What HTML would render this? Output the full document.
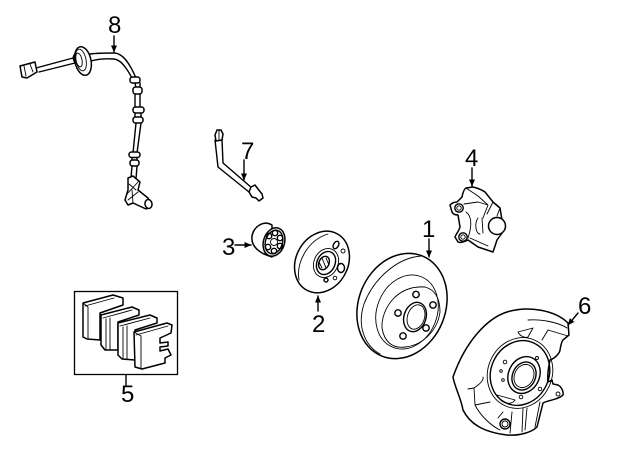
<!DOCTYPE html>
<html><head><meta charset="utf-8"><style>
html,body{margin:0;padding:0;background:#fff}
svg{display:block}
text{font-family:"Liberation Sans",sans-serif;font-size:24px;fill:#000}
.a{fill:none;stroke:#000;stroke-width:1.4;stroke-linejoin:round;stroke-linecap:round}
.w{fill:#fff;stroke:#000;stroke-width:1.5;stroke-linejoin:round}
.t{fill:none;stroke:#000;stroke-width:.9;stroke-linecap:round;stroke-linejoin:round}
</style></head><body>
<svg width="640" height="471" viewBox="0 0 640 471" xmlns="http://www.w3.org/2000/svg">
<defs><marker id="m" markerWidth="8" markerHeight="8" refX="6.5" refY="3" orient="auto" markerUnits="userSpaceOnUse"><path d="M0 0L7 3L0 6z" fill="#000"/></marker></defs>

<!-- 8 sensor -->
<path class="a" d="M90 54C98 53 106 53 114 53C123 53 130 64 136 78M91 61C98 59 106 58.500 114 59C121 60 126 67 132 78"/>
<path class="a" d="M36 68L73 58M39 72L75 63"/>
<path class="w" d="M20 66L35 62L37 72L27 78L22 77z"/>
<path class="t" d="M24 66L26 76M30 64L33 72"/>
<path class="w" d="M73 58C74 54 77 51 79 50L83 70C79 68 76 65 75 63z"/>
<ellipse class="w" cx="83" cy="61" rx="8" ry="14.500" transform="rotate(-12 83 61)"/>
<ellipse class="t" cx="81" cy="60" rx="5" ry="11" transform="rotate(-12 81 60)"/>
<ellipse class="t" cx="79" cy="60" rx="3" ry="7" transform="rotate(-12 79 60)"/>
<path class="a" d="M135 83L136 88M140 83V88M135 94V107M140 94V107M136 123L133 153M141 123L137 153M135 113V117M141 113V117M132 157V160M137 157V160"/>
<rect class="w" x="130" y="77" width="10" height="6" rx="2.500"/>
<rect class="w" x="133" y="87" width="9" height="7" rx="2.500"/>
<rect class="w" x="133" y="107" width="11" height="6" rx="2.500"/>
<rect class="w" x="133" y="117" width="10" height="6" rx="2.500"/>
<rect class="w" x="129" y="152" width="11" height="5.500" rx="2.500"/>
<rect class="w" x="130" y="160" width="9" height="6" rx="2.500"/>
<path class="a" d="M132 166L131 178M137 166L136 179"/>
<path class="w" d="M128 178L133 176L140 182L138 190L148 198L152 205L146 209L133 203L128 205L125 200L128 190z"/>
<path class="t" d="M129 184L136 190M127 194L138 182M128 200L138 192M132 190L133 203"/>
<ellipse class="w" cx="148.500" cy="204" rx="3.500" ry="4.500" transform="rotate(-10 148.500 204)"/>
<text x="108" y="33">8</text>
<path class="a" d="M114 36V52" marker-end="url(#m)"/>

<!-- 7 hose -->
<path class="a" d="M215 140L218 167L249 192M222 140L223 163L252 188"/>
<path class="w" d="M215 135L217 130L221 130L223 134L222 140L216 141z"/>
<path class="t" d="M219 130V140"/>
<path class="w" d="M249 192L251 187L255 185L258 189L262 194L263 198L259 201L256 198L252 197z"/>
<text x="241" y="159">7</text>
<path class="a" d="M244 160V180" marker-end="url(#m)"/>

<!-- 3 bearing -->
<path class="w" d="M272 225C264 220 254 226 252 236C251 244 256 250 264 254L272 257z"/>
<ellipse class="w" cx="274" cy="242" rx="10.500" ry="14.500" transform="rotate(18 274 242)"/>
<ellipse class="a" cx="274" cy="242" rx="8.500" ry="12" transform="rotate(18 274 242)"/>
<circle class="t" cx="274" cy="242" r="3.500"/>
<g class="a"><circle cx="269" cy="236" r="2.700"/><circle cx="275" cy="233" r="2.700"/><circle cx="280" cy="238" r="2.700"/><circle cx="280" cy="246" r="2.700"/><circle cx="274" cy="251" r="2.700"/><circle cx="268" cy="247" r="2.700"/></g>
<text x="222" y="255">3</text>
<path class="a" d="M235 245H251" marker-end="url(#m)"/>

<!-- 2 hub -->
<ellipse class="w" cx="322" cy="262" rx="26" ry="32" transform="rotate(28 322 262)"/>
<path class="t" d="M299 280C296 262 308 240 328 234"/>
<ellipse class="t" cx="326" cy="263" rx="12" ry="15" transform="rotate(25 326 263)"/>
<ellipse class="a" cx="326" cy="263" rx="9" ry="12" transform="rotate(25 326 263)"/>
<ellipse class="a" cx="324" cy="263" rx="5" ry="7" transform="rotate(25 324 263)"/>
<path class="t" d="M322 258L326 268M319 262L322 268M326 258L329 265"/>
<ellipse class="a" cx="336" cy="245" rx="2.500" ry="4" transform="rotate(30 336 245)"/>
<circle class="t" cx="343" cy="251" r="2"/>
<ellipse class="a" cx="341" cy="268" rx="3.500" ry="4.500"/>
<circle class="t" cx="335" cy="278" r="1.800"/>
<circle class="a" cx="326" cy="280" r="2"/>
<text x="312" y="332">2</text>
<path class="a" d="M318 311V296" marker-end="url(#m)"/>

<!-- 1 rotor -->
<ellipse class="w" cx="402" cy="306" rx="43.500" ry="54" transform="rotate(22 402 306)"/>
<path class="t" d="M380 354C364 345 357 325 364 304C373 280 396 258 421 256"/>
<ellipse class="t" cx="407" cy="312" rx="30" ry="38" transform="rotate(22 407 312)"/>
<path class="t" d="M382 328C381 310 396 285 425 287C436 290 440 300 440 312C438 328 425 345 405 347C391 349 384 340 382 328z"/>
<ellipse class="a" cx="415" cy="317" rx="11" ry="15" transform="rotate(18 415 317)"/>
<ellipse class="t" cx="416" cy="317" rx="8.500" ry="12.500" transform="rotate(18 416 317)"/>
<circle class="a" cx="416" cy="294.500" r="3.200"/>
<circle class="a" cx="433" cy="305" r="3.200"/>
<circle class="a" cx="426" cy="328" r="3.200"/>
<circle class="a" cx="403" cy="336" r="3.200"/>
<circle class="a" cx="398" cy="313" r="3.200"/>
<text x="422" y="237">1</text>
<path class="a" d="M429 239V257" marker-end="url(#m)"/>

<!-- 4 caliper -->
<path class="w" d="M462 197C463 192 464 189 466 188L473 187C477 188 482 190 485 192L493 202L500 208L502 220L505 227L502 233L497 240L493 252L478 247L468 240C464 242 460 243 458 242L455 237C456 234 459 231 460 227L458 215C455 215 453 214 452 212L450 205C452 203 455 202 457 202z"/>
<path class="t" d="M464 204L478 202L488 205L483 218M466 212C472 216 472 226 468 238M478 218C474 224 476 234 480 234M482 218L483 233M470 238L488 246M493 202L487 214M500 208L497 216M466 188L478 196L488 205"/>
<circle class="w" cx="497" cy="226" r="8.500"/>
<circle class="a" cx="459" cy="208" r="4.200"/>
<circle class="t" cx="459" cy="208" r="2.200"/>
<circle class="a" cx="463" cy="237" r="4.200"/>
<circle class="t" cx="463" cy="237" r="2.200"/>
<text x="465" y="166">4</text>
<path class="a" d="M472 168V186" marker-end="url(#m)"/>

<!-- 5 pads -->
<rect x="74.500" y="291.500" width="103" height="83" fill="#fff" stroke="#000" stroke-width="1.300"/>
<path class="w" d="M83 303L113 295L123 298L123 305L100 313V340L87 339L83 337z"/>
<path class="t" d="M85 306L114 298M88 307V339M83 303L88 307"/>
<path class="w" d="M101 315L132 307L139 310V315L118 322V350L105 350L101 345z"/>
<path class="t" d="M103 318L132 310M106 319V349M110 318V350"/>
<path class="w" d="M118 323L150 315L157 318V323L135 330V360L122 359L118 355z"/>
<path class="t" d="M120 326L150 318M123 327V358M127 326V359"/>
<path class="w" d="M134 332L167 323L172 325L171 333L160 338V343L168 342L168 346L160 347L160 351L168 349L171 355L165 358V363L142 369L135 367z"/>
<path class="t" d="M136 335L168 326M141 336V368M134 332L141 336"/>
<text x="121" y="402">5</text>
<path class="a" d="M126 375V385"/>

<!-- 6 shield -->
<path class="w" d="M568 323C556 311 530 305 507 312C488 318 466 340 453 377C455 388 461 398 463 410C470 424 483 432 507 435C520 436 532 432 537 427L543 403C548 400 558 400 563 395C564 390 560 386 558 385L553 384L552 380L548 382C547 372 549 366 550 360C556 358 560 352 560 350C561 344 562 341 563 340L569 335z"/>
<path class="t" d="M528 320C540 319 558 322 567 328"/>
<path class="t" d="M468 389L474 388L475 405L490 402M474 388C480 384 484 380 483 377M518 332L533 328L528 337C524 338 520 336 518 332M542 340L548 330L568 336M475 405C480 415 490 425 500 430"/>
<ellipse class="t" cx="520" cy="373" rx="32" ry="36" transform="rotate(25 520 373)"/>
<ellipse class="a" cx="520" cy="373" rx="29" ry="33" transform="rotate(25 520 373)"/>
<ellipse class="a" cx="524" cy="375" rx="15.500" ry="19" transform="rotate(25 524 375)"/>
<ellipse class="a" cx="524" cy="376" rx="11.500" ry="14.500" transform="rotate(25 524 376)"/>
<ellipse class="t" cx="524" cy="376" rx="9.500" ry="12" transform="rotate(25 524 376)"/>
<circle class="t" cx="505" cy="362" r="1.800"/>
<circle class="t" cx="537" cy="358" r="1.500"/>
<circle class="t" cx="501" cy="371" r="1.300"/>
<circle class="t" cx="503" cy="380" r="1.300"/>
<circle class="t" cx="540" cy="389" r="1.800"/>
<circle class="t" cx="521" cy="397" r="1.800"/>
<path class="t" d="M497 395L515 400C512 405 502 405 497 395z"/>
<path class="t" d="M503 412L498 418M512 412L510 433M523 408L522 432M527 408L525 430M540 402L535 427"/>
<circle class="a" cx="505" cy="424" r="5"/>
<circle class="t" cx="505" cy="424" r="3"/>
<circle class="t" cx="558" cy="394" r="2"/>
<text x="578" y="314">6</text>
<path class="a" d="M578 313L568 325" marker-end="url(#m)"/>
</svg>
</body></html>
